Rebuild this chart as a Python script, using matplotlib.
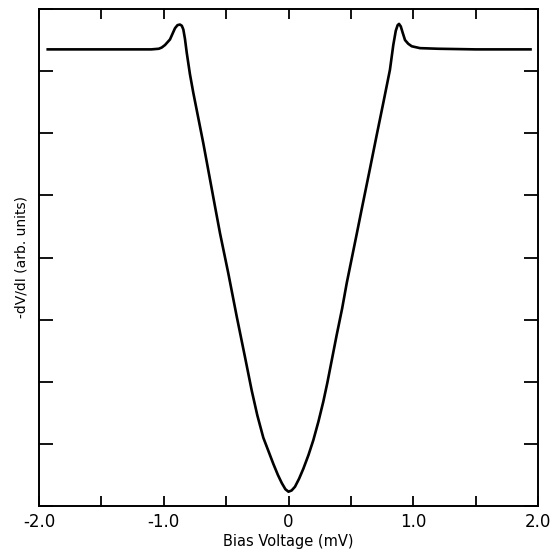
import matplotlib
matplotlib.use("Agg")
import matplotlib.pyplot as plt
from matplotlib.ticker import MultipleLocator, FixedLocator, FixedFormatter

# bias voltage (mV) and -dV/dI (arb. units)
bias_mv = [-1.93, -1.60, -1.30, -1.10, -1.04, -1.016, -0.99, -0.95, -0.93,
           -0.91, -0.89, -0.870, -0.855, -0.843, -0.830, -0.816, -0.79,
           -0.763, -0.683, -0.589, -0.549, -0.483, -0.415, -0.349, -0.295,
           -0.25, -0.202, -0.16, -0.122, -0.085, -0.054, -0.025, 0.0,
           0.025, 0.052, 0.085, 0.119, 0.16, 0.199, 0.24, 0.279, 0.311,
           0.35, 0.386, 0.43, 0.467, 0.547, 0.587, 0.653, 0.707, 0.760,
           0.813, 0.840, 0.860, 0.875, 0.886, 0.900, 0.915, 0.934, 0.96,
           0.988, 1.054, 1.20, 1.50, 1.75, 1.94]
didv = [7.35, 7.35, 7.35, 7.35, 7.36, 7.38, 7.42, 7.51, 7.60,
        7.69, 7.74, 7.75, 7.73, 7.67, 7.52, 7.30, 6.95,
        6.65, 5.84, 4.82, 4.39, 3.75, 3.05, 2.40, 1.86,
        1.46, 1.10, 0.88, 0.68, 0.50, 0.37, 0.27, 0.23,
        0.25, 0.31, 0.44, 0.60, 0.82, 1.06, 1.36, 1.68, 1.98,
        2.38, 2.75, 3.18, 3.59, 4.38, 4.78, 5.43, 5.97, 6.49,
        7.02, 7.42, 7.65, 7.74, 7.76, 7.72, 7.62, 7.50, 7.44,
        7.40, 7.37, 7.36, 7.35, 7.35, 7.35]

xtick_pos = [-2.0, -1.0, 0.0, 1.0, 2.0]
xtick_labels = ["-2.0", "-1.0", "0", "1.0", "2.0"]

fig = plt.figure(figsize=(5.5, 5.57), dpi=100)
ax = fig.add_axes([39 / 550, 1 - 506 / 557, 499 / 550, 497 / 557])

ax.plot(bias_mv, didv, color="black", lw=1.9, solid_joinstyle="round")

ax.set_xlim(-2.0, 2.0)
ax.set_ylim(0, 8)

ax.xaxis.set_major_locator(FixedLocator(xtick_pos))
ax.xaxis.set_major_formatter(FixedFormatter(xtick_labels))
ax.xaxis.set_minor_locator(MultipleLocator(0.5))
ax.yaxis.set_major_locator(MultipleLocator(1))
ax.set_yticklabels([])

ax.tick_params(axis="x", which="both", direction="in", length=7, width=1.3,
               top=True, labelsize=12, pad=5)
ax.tick_params(axis="y", which="both", direction="in", length=10, width=1.3,
               right=True)

for s in ax.spines.values():
    s.set_linewidth(1.4)

ax.set_xlabel("Bias Voltage (mV)", fontsize=10.5, labelpad=2)
ax.set_ylabel("-dV/dI (arb. units)", fontsize=10, labelpad=4)

fig.savefig("out.png", dpi=100)
